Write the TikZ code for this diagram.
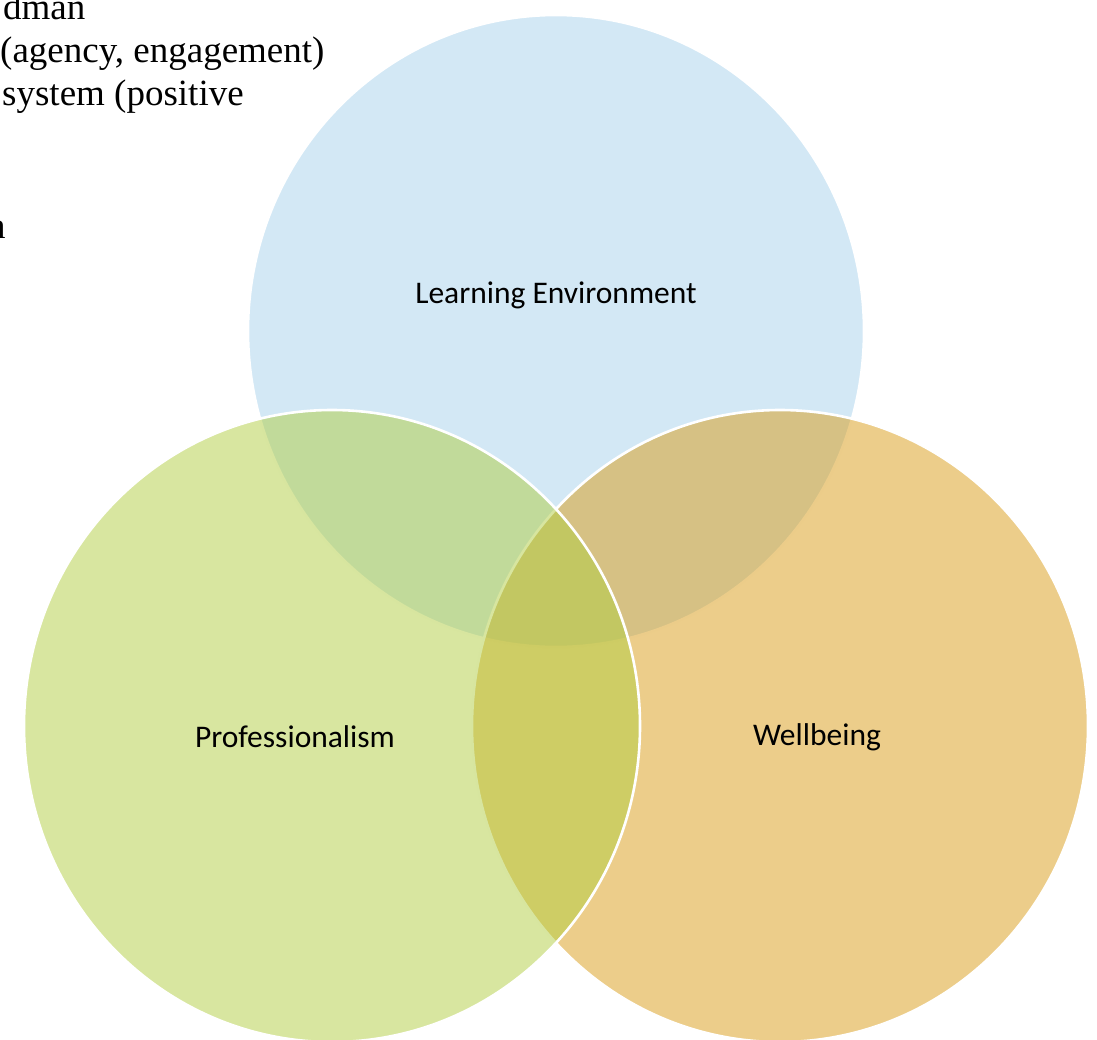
\documentclass[tikz,border=0pt]{standalone}
\usepackage{fontspec}
\setmainfont{Liberation Serif}
\newfontfamily\labelfont{Carlito}
\begin{document}
\begin{tikzpicture}[x=1pt,y=-1pt,
  setblob/.style={draw=white,line width=2.6pt,fill opacity=0.5,draw opacity=1},
  setlabel/.style={font=\labelfont\fontsize{31.5}{36}\selectfont,text=black,inner sep=0pt},
  bodytext/.style={font=\fontsize{37}{44}\selectfont,anchor=base west,inner sep=0pt}]
  \useasboundingbox (0,0) rectangle (1097,1039);
  \clip (0,0) rectangle (1097,1039);

  % running text of the page, cut at the left margin
  \node[bodytext] (t1) at (3,19) {dman};
  \node[bodytext] (t2) at (0,62) {(agency, engagement)};
  \node[bodytext] (t3) at (2,105) {system (positive};
  \node[bodytext] (t4) at (-13,238) {n};

  % centres of the three sets
  \coordinate (env) at (556,331);
  \coordinate (wel) at (780,726);
  \coordinate (pro) at (332,726);

  % three overlapping sets, translucent fills with white rims
  \draw[setblob,fill={rgb,255:red,167;green,209;blue,235}] (env) ellipse [x radius=308pt,y radius=316pt];
  \draw[setblob,fill={rgb,255:red,217;green,155;blue,21}] (wel) ellipse [x radius=308pt,y radius=316pt];
  \draw[setblob,fill={rgb,255:red,177;green,205;blue,65}] (pro) ellipse [x radius=308pt,y radius=316pt];

  \node[setlabel] (lenv) at (556,295) {Learning Environment};
  \node[setlabel] (lpro) at (295,737) {Professionalism};
  \node[setlabel] (lwel) at (817,737) {Wellbeing};
\end{tikzpicture}
\end{document}
